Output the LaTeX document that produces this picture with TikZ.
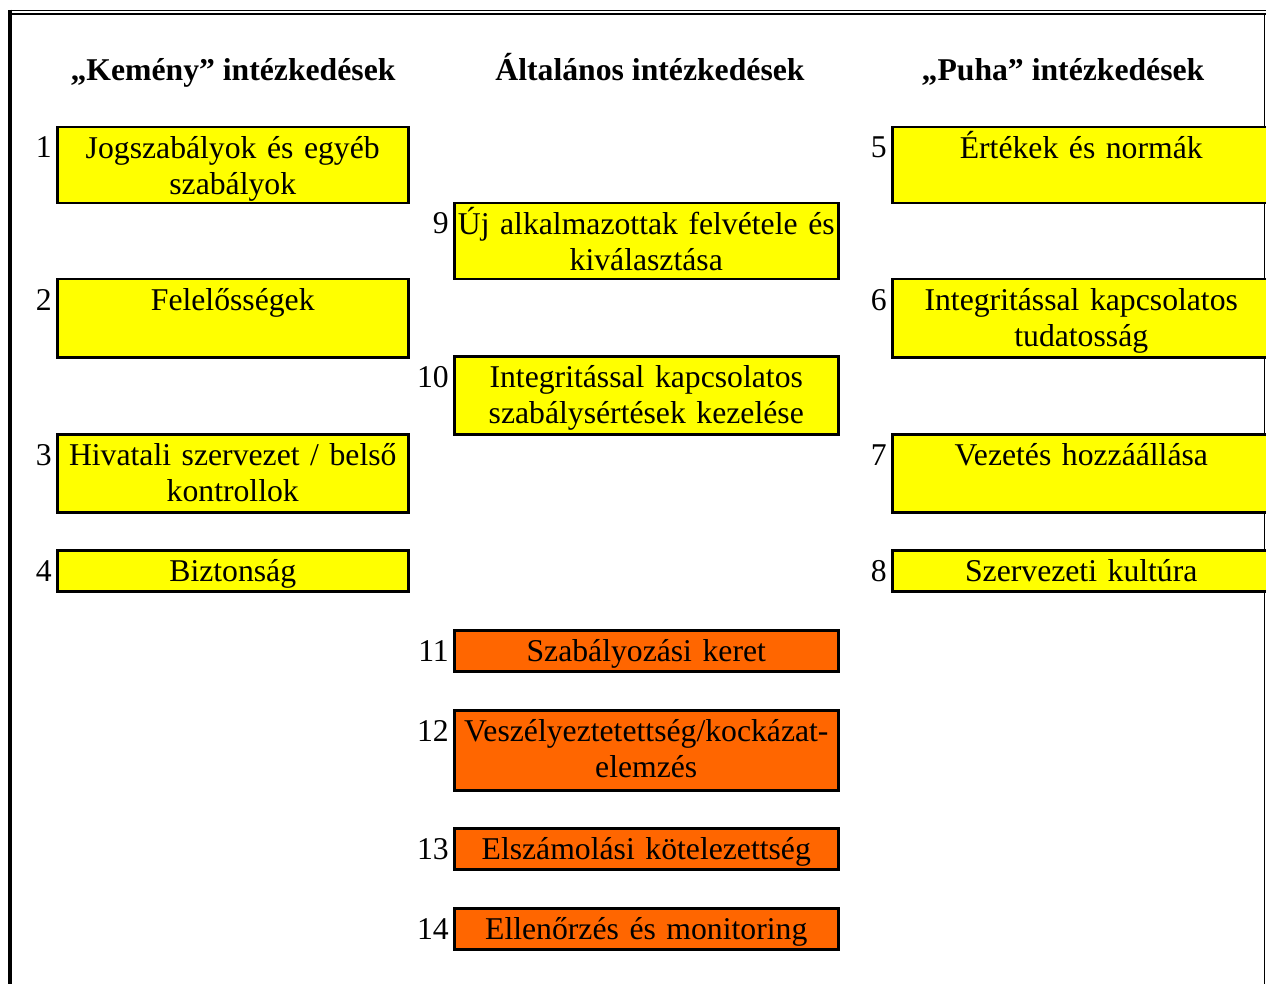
\documentclass[tikz,border=0pt]{standalone}
\usepackage{fontspec}
\setmainfont{Liberation Serif}
\usetikzlibrary{positioning}
\definecolor{softyellow}{RGB}{255,255,0}
\definecolor{hardorange}{RGB}{255,102,0}
\newcommand{\boxfont}{\fontsize{31.7}{36}\selectfont}

\tikzset{
  measure/.style={draw=black, line width=2.5pt, inner xsep=1pt, inner ysep=0pt,
    align=center, anchor=north west, font=\boxfont, text height=31pt},
  yellowbox/.style={measure, fill=softyellow},
  orangebox/.style={measure, fill=hardorange},
  leftcol/.style={text width=349pt},
  midcol/.style={text width=382pt},
  rightcol/.style={text width=376pt},
  num/.style={font=\boxfont, anchor=base east, inner sep=0pt},
  head/.style={font=\boxfont\bfseries, anchor=base, inner sep=0pt}
}

\begin{document}
\begin{tikzpicture}[x=1pt, y=-1pt]
        \useasboundingbox (0,0) rectangle (1266,984);

        % frame
        \draw[line width=1.5pt] (8,10.5) -- (1266,10.5);
        \draw[line width=2.5pt] (12,14) -- (1266,14);
        \draw[line width=4pt] (10,9.75) -- (10,984);
        \draw[line width=1.5pt] (1264.5,14) -- (1264.5,984);

        % headings
        \node[head] (hhard) at (233,81) {„Kemény” intézkedések};
        \node[head] (hgen) at (650,81) {Általános intézkedések};
        \node[head] (hsoft) at (1063,81) {„Puha” intézkedések};

        % left column
        \node[yellowbox, leftcol, text depth=45pt] (b1) at (56,126) {Jogszabályok és egyéb\\szabályok};
        \node[yellowbox, leftcol, text depth=47pt] (b2) at (56,278) {Felelősségek};
        \node[yellowbox, leftcol, text depth=47pt] (b3) at (56,433) {Hivatali szervezet / belső\\kontrollok};
        \node[yellowbox, leftcol, text depth=10pt] (b4) at (56,549) {Biztonság};

        % middle column
        \node[yellowbox, midcol, text depth=45pt] (b9) at (453,202) {Új alkalmazottak felvétele és\\kiválasztása};
        \node[yellowbox, midcol, text depth=47pt] (b10) at (453,355) {Integritással kapcsolatos\\szabálysértések kezelése};
        \node[orangebox, midcol, text depth=10pt] (b11) at (453,629) {Szabályozási keret};
        \node[orangebox, midcol, text depth=49pt] (b12) at (453,709) {Veszélyeztetettség/kockázat-\\elemzés};
        \node[orangebox, midcol, text depth=10pt] (b13) at (453,827) {Elszámolási kötelezettség};
        \node[orangebox, midcol, text depth=10pt] (b14) at (453,907) {Ellenőrzés és monitoring};

        % right column
        \node[yellowbox, rightcol, text depth=45pt] (b5) at (891,126) {Értékek és normák};
        \node[yellowbox, rightcol, text depth=47pt] (b6) at (891,278) {Integritással kapcsolatos\\tudatosság};
        \node[yellowbox, rightcol, text depth=47pt] (b7) at (891,433) {Vezetés hozzáállása};
        \node[yellowbox, rightcol, text depth=10pt] (b8) at (891,549) {Szervezeti kultúra};

        % numbers
        \node[num] (n1) at ([xshift=-4pt,yshift=-32pt]b1.north west) {1};
        \node[num] (n2) at ([xshift=-4pt,yshift=-32pt]b2.north west) {2};
        \node[num] (n3) at ([xshift=-4pt,yshift=-32pt]b3.north west) {3};
        \node[num] (n4) at ([xshift=-4pt,yshift=-32pt]b4.north west) {4};
        \node[num] (n5) at ([xshift=-4pt,yshift=-32pt]b5.north west) {5};
        \node[num] (n6) at ([xshift=-4pt,yshift=-32pt]b6.north west) {6};
        \node[num] (n7) at ([xshift=-4pt,yshift=-32pt]b7.north west) {7};
        \node[num] (n8) at ([xshift=-4pt,yshift=-32pt]b8.north west) {8};
        \node[num] (n9) at ([xshift=-4pt,yshift=-32pt]b9.north west) {9};
        \node[num] (n10) at ([xshift=-4pt,yshift=-32pt]b10.north west) {10};
        \node[num] (n11) at ([xshift=-4pt,yshift=-32pt]b11.north west) {11};
        \node[num] (n12) at ([xshift=-4pt,yshift=-32pt]b12.north west) {12};
        \node[num] (n13) at ([xshift=-4pt,yshift=-32pt]b13.north west) {13};
        \node[num] (n14) at ([xshift=-4pt,yshift=-32pt]b14.north west) {14};
\end{tikzpicture}
\end{document}
